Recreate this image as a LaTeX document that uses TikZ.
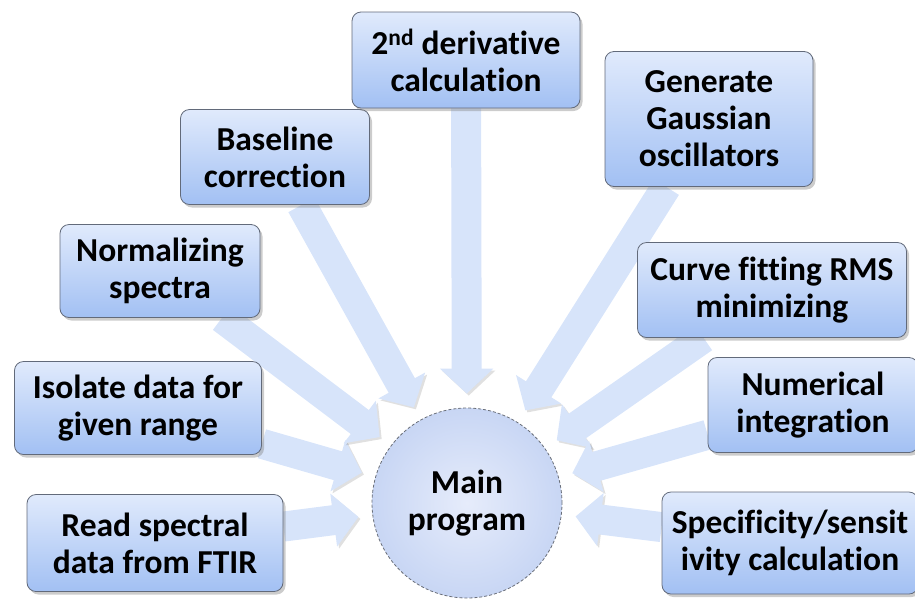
\documentclass[tikz,border=0pt]{standalone}
\usepackage{fontspec}
\setmainfont{Carlito}[Ligatures=NoCommon]
\usetikzlibrary{arrows.meta, shadows, backgrounds}
\definecolor{boxTop}{RGB}{224,234,252}
\definecolor{boxBottom}{RGB}{162,192,243}
\definecolor{boxEdge}{RGB}{98,106,122}
\definecolor{feedBlue}{RGB}{215,228,250}
\definecolor{hubIn}{RGB}{230,236,251}
\definecolor{hubOut}{RGB}{200,214,244}
\definecolor{hubEdge}{RGB}{105,110,120}

\begin{document}
\begin{tikzpicture}[x=1pt, y=-1pt,
    task/.style={draw=boxEdge, line width=0.8pt, rounded corners=9pt,
        top color=boxTop, bottom color=boxBottom, align=center, inner sep=0pt,
        font=\bfseries\fontsize{33.5}{37}\selectfont,
        drop shadow={opacity=0.4, shadow xshift=2.5pt, shadow yshift=-3pt}},
    hub/.style={circle, draw=hubEdge, line width=0.8pt, densely dashed,
        inner color=hubIn, outer color=hubOut, minimum size=190pt, inner sep=0pt,
        align=center, font=\bfseries\fontsize{33.5}{37}\selectfont},
    feed/.style={line width=30pt, feedBlue, shorten >=14pt,
        -{Triangle[width=52pt, length=25pt]},
        preaction={draw=black, opacity=0.12, transform canvas={shift={(2pt,-2pt)}}}}
]
    \useasboundingbox (0,0) rectangle (915,598);

    \node[hub] (main) at (467,503) {Main\\program};

    \node[task, minimum width=256, minimum height=97] (read) at (155,543) {Read spectral\\data from FTIR};
    \node[task, minimum width=247, minimum height=93] (isolate) at (138,408) {Isolate data for\\given range};
    \node[task, minimum width=200, minimum height=93] (norm) at (160,271) {Normalizing\\spectra};
    \node[task, minimum width=189, minimum height=95] (base) at (275,157) {Baseline\\correction};
    \node[task, minimum width=228, minimum height=96] (deriv) at (466,60) {2\textsuperscript{nd} derivative\\calculation};
    \node[task, minimum width=208, minimum height=135] (gauss) at (709,119) {Generate\\Gaussian\\oscillators};
    \node[task, minimum width=269, minimum height=95] (fit) at (772,290) {Curve fitting RMS\\minimizing};
    \node[task, minimum width=210, minimum height=95] (integ) at (813,405) {Numerical\\integration};
    \node[task, minimum width=256, minimum height=102] (spec) at (790,543) {Specificity/sensit\\ivity calculation};

    % Arrows
    \begin{scope}[on background layer]
        \draw[feed] (read) -- (main); \draw[feed] (isolate) -- (main); \draw[feed] (norm) -- (main);
        \draw[feed] (base) -- (main); \draw[feed] (deriv) -- (main); \draw[feed] (gauss) -- (main);
        \draw[feed] (fit) -- (main); \draw[feed] (integ) -- (main); \draw[feed] (spec) -- (main);
    \end{scope}
\end{tikzpicture}
\end{document}
